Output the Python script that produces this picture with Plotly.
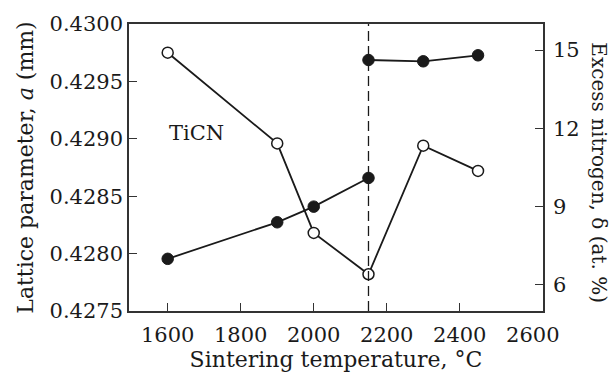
import plotly.graph_objects as go

# ---- data ----
temps_lattice = [1600, 1900, 2000, 2150, 2300, 2450]
lattice_param = [0.42975, 0.42896, 0.42818, 0.42782, 0.42894, 0.42872]

temps_nitrogen = [1600, 1900, 2000, 2150, None, 2150, 2300, 2450]
excess_nitrogen = [7.0, 8.4, 9.0, 10.1, None, 14.62, 14.57, 14.8]

divider_temp = 2150
x_ticks = [1600, 1800, 2000, 2200, 2400, 2600]
x_tick_marks = [1600, 1800, 2000, 2200, 2400]
y_left_ticks = [0.4275, 0.4280, 0.4285, 0.4290, 0.4295, 0.4300]
y_left_labels = ["0.4275", "0.4280", "0.4285", "0.4290", "0.4295", "0.4300"]
y_right_ticks = [6, 9, 12, 15]
label_text = "TiCN"
label_pos = (1680, 0.42905)

FONT = "DejaVu Serif"
INK = "#1a1a1a"

fig = go.Figure()

fig.add_trace(go.Scatter(
    x=temps_nitrogen, y=excess_nitrogen, yaxis="y2", mode="lines+markers",
    connectgaps=False,
    line=dict(color=INK, width=1.8),
    marker=dict(symbol="circle", size=11.5, color=INK, line=dict(color=INK, width=1)),
    showlegend=False, hoverinfo="skip"))

fig.add_trace(go.Scatter(
    x=temps_lattice, y=lattice_param, mode="lines+markers",
    line=dict(color=INK, width=1.8),
    marker=dict(symbol="circle", size=11, color="white", line=dict(color=INK, width=1.5)),
    showlegend=False, hoverinfo="skip"))

# invisible trace for tick-mark overlay axis
fig.add_trace(go.Scatter(x=[x_tick_marks[0]], y=[lattice_param[0]], xaxis="x2",
                         mode="markers", marker=dict(opacity=0), showlegend=False,
                         hoverinfo="skip"))

fig.add_shape(type="line", xref="x", yref="paper", x0=divider_temp, x1=divider_temp,
              y0=0, y1=1, line=dict(color=INK, width=1.3, dash="10px,5px"))

fig.add_annotation(x=label_pos[0], y=label_pos[1], xref="x", yref="y", text=label_text,
                   showarrow=False, font=dict(family=FONT, size=21, color=INK))

fig.add_annotation(xref="paper", yref="paper", x=1.135, y=0.48, text="Excess nitrogen, δ (at. %)",
                   textangle=90, showarrow=False, xanchor="center", yanchor="middle",
                   font=dict(family=FONT, size=20, color=INK))

x_range = [1494, 2628]

fig.update_layout(
    width=614, height=378,
    margin=dict(l=129, r=71, t=13, b=65),
    paper_bgcolor="white", plot_bgcolor="white",
    font=dict(family=FONT, size=20, color=INK),
    xaxis=dict(range=x_range, tickvals=x_ticks, ticks="", showgrid=False, zeroline=False,
               showline=True, linecolor="#333", linewidth=1.5, mirror=True,
               ticklabelstandoff=4,
               tickfont=dict(family=FONT, size=21, color=INK),
               title=dict(text="Sintering temperature, °C", standoff=4,
                          font=dict(family=FONT, size=22, color=INK))),
    xaxis2=dict(range=x_range, overlaying="x", side="bottom",
                tickvals=x_tick_marks, ticks="inside", ticklen=8, tickwidth=1.3,
                tickcolor="#333", showticklabels=False, showgrid=False, zeroline=False,
                showline=False, anchor="y"),
    yaxis=dict(range=[0.4275, 0.4300], tickvals=y_left_ticks, ticktext=y_left_labels,
               ticks="inside", ticklen=8, tickwidth=1.3, tickcolor="#333",
               showgrid=False, zeroline=False, showline=True, linecolor="#333", linewidth=1.5,
               tickfont=dict(family=FONT, size=21, color=INK),
               title=dict(text="Lattice parameter, <i>a</i> (mm)", standoff=10,
                          font=dict(family=FONT, size=22, color=INK))),
    yaxis2=dict(range=[5, 16], tickvals=y_right_ticks, overlaying="y", side="right",
                ticks="inside", ticklen=8, tickwidth=1.3, tickcolor="#333",
                ticklabelstandoff=4,
                showgrid=False, zeroline=False, showline=True, linecolor="#333", linewidth=1.5,
                tickfont=dict(family=FONT, size=21, color=INK)),
)

fig.write_html("out.html")
